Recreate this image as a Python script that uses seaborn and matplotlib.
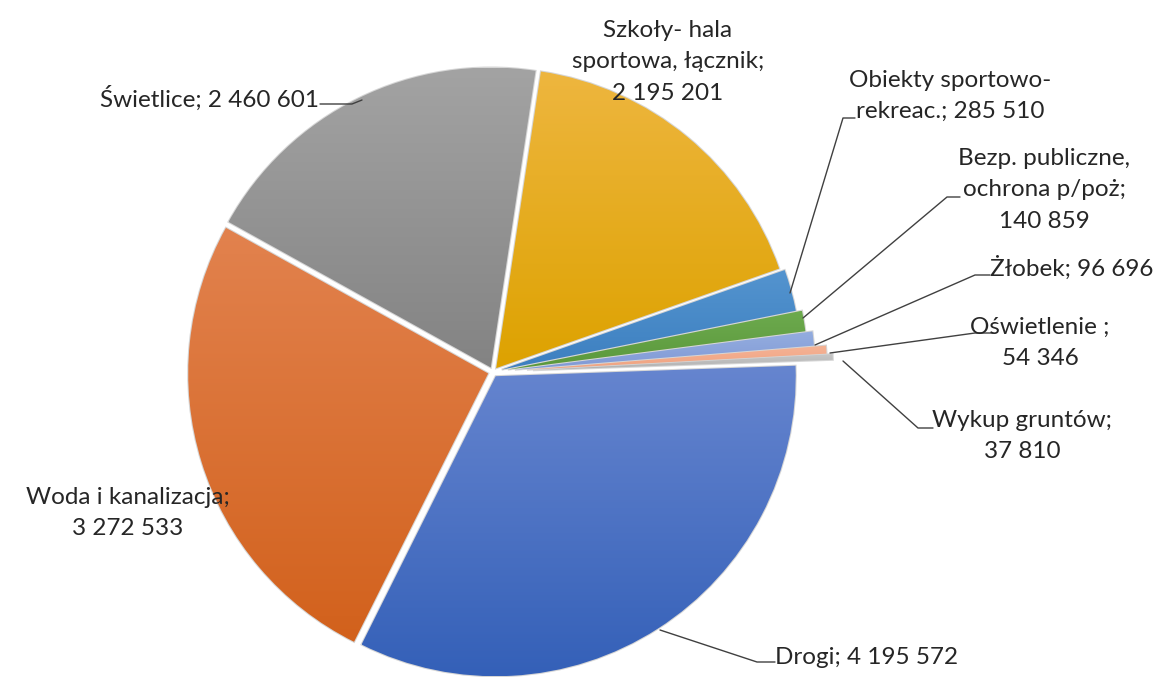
import numpy as np
import matplotlib
matplotlib.use("Agg")
import matplotlib.pyplot as plt
import seaborn as sns
from matplotlib.colors import LinearSegmentedColormap

categories = ["Drogi", "Woda i kanalizacja", "Świetlice", "Szkoły- hala sportowa, łącznik",
              "Obiekty sportowo-rekreac.", "Bezp. publiczne, ochrona p/poż", "Żłobek",
              "Oświetlenie", "Wykup gruntów"]
values = [4195572, 3272533, 2460601, 2195201, 285510, 140859, 96696, 54346, 37810]
label_texts = ["Drogi; 4 195 572",
               "Woda i kanalizacja;\n3 272 533",
               "Świetlice; 2 460 601",
               "Szkoły- hala\nsportowa, łącznik;\n2 195 201",
               "Obiekty sportowo-\nrekreac.; 285 510",
               "Bezp. publiczne,\nochrona p/poż;\n140 859",
               "Żłobek; 96 696",
               "Oświetlenie ;\n54 346",
               "Wykup gruntów;\n37 810"]
top_colors = ["#6685CF", "#E2824E", "#A3A3A3", "#EEB63F", "#5494CF", "#6DAA4E", "#94ADDF", "#F5B396", "#C8C8C8"]
bot_colors = ["#3460B8", "#D2611C", "#838383", "#DDA200", "#3C7FC0", "#5A983B", "#8099D6", "#F0A27F", "#B0B0B0"]
# explosion offsets (in pixels of the drawing area)
explode = [5, 5, 5, 5, 9, 15, 22, 34, 40]

sns.set_theme(style="white")
plt.rcParams['font.family'] = ['Lato', 'DejaVu Sans']

W, H = 1154, 677
fig = plt.figure(figsize=(W / 100, H / 100), dpi=100)
ax = fig.add_axes([0, 0, 1, 1])
cx, cy, R = 493, H - 372, 300

wedges, _ = ax.pie(values, startangle=2, counterclock=False, explode=explode,
                   center=(cx, cy), radius=R, frame=True,
                   colors=bot_colors,
                   wedgeprops=dict(edgecolor="#D6D6D6", linewidth=1.5))

# gradient fills clipped to each wedge
for w, ct, cb in zip(wedges, top_colors, bot_colors):
    ext = w.get_path().get_extents()
    cmap = LinearSegmentedColormap.from_list("g", [cb, ct])
    grad = np.linspace(0, 1, 256).reshape(-1, 1)
    im = ax.imshow(grad, cmap=cmap, origin="lower", aspect="auto",
                   extent=[ext.x0, ext.x1, ext.y0, ext.y1], zorder=w.get_zorder() + 0.1)
    im.set_clip_path(w)

ax.set_xlim(0, W)
ax.set_ylim(0, H)
ax.set_aspect("equal")
ax.axis("off")

txt_color = "#262626"
line_color = "#404040"
fs = 17.5

# label positions (pixel coords, y from top) and leader lines
label_pos = [
    (775, 657, "left"),
    (128, 513, "center"),
    (100, 98, "left"),
    (668, 62, "center"),
    (950, 96, "center"),
    (1044, 190, "center"),
    (990, 268, "left"),
    (1040, 343, "center"),
    (1022, 436, "center"),
]
leaders = [
    [(660, 630), (757, 662), (775, 662)],
    None,
    [(320, 104), (352, 104), (362, 100)],
    None,
    [(790, 293), (843, 118), (855, 118)],
    [(803, 318), (947, 197), (960, 197)],
    [(815, 345), (975, 275), (990, 275)],
    [(830, 353), (975, 333), (993, 333)],
    [(843, 361), (918, 428), (933, 428)],
]
for txt, (x, y, ha), ld in zip(label_texts, label_pos, leaders):
    ax.text(x, H - y, txt, ha=ha, va="center", fontsize=fs, color=txt_color,
            linespacing=1.6, zorder=10)
    if ld is not None:
        xs = [p[0] for p in ld]
        ys = [H - p[1] for p in ld]
        ax.plot(xs, ys, color=line_color, lw=1.0, zorder=9)

fig.savefig("out.png", dpi=100, facecolor="white")
